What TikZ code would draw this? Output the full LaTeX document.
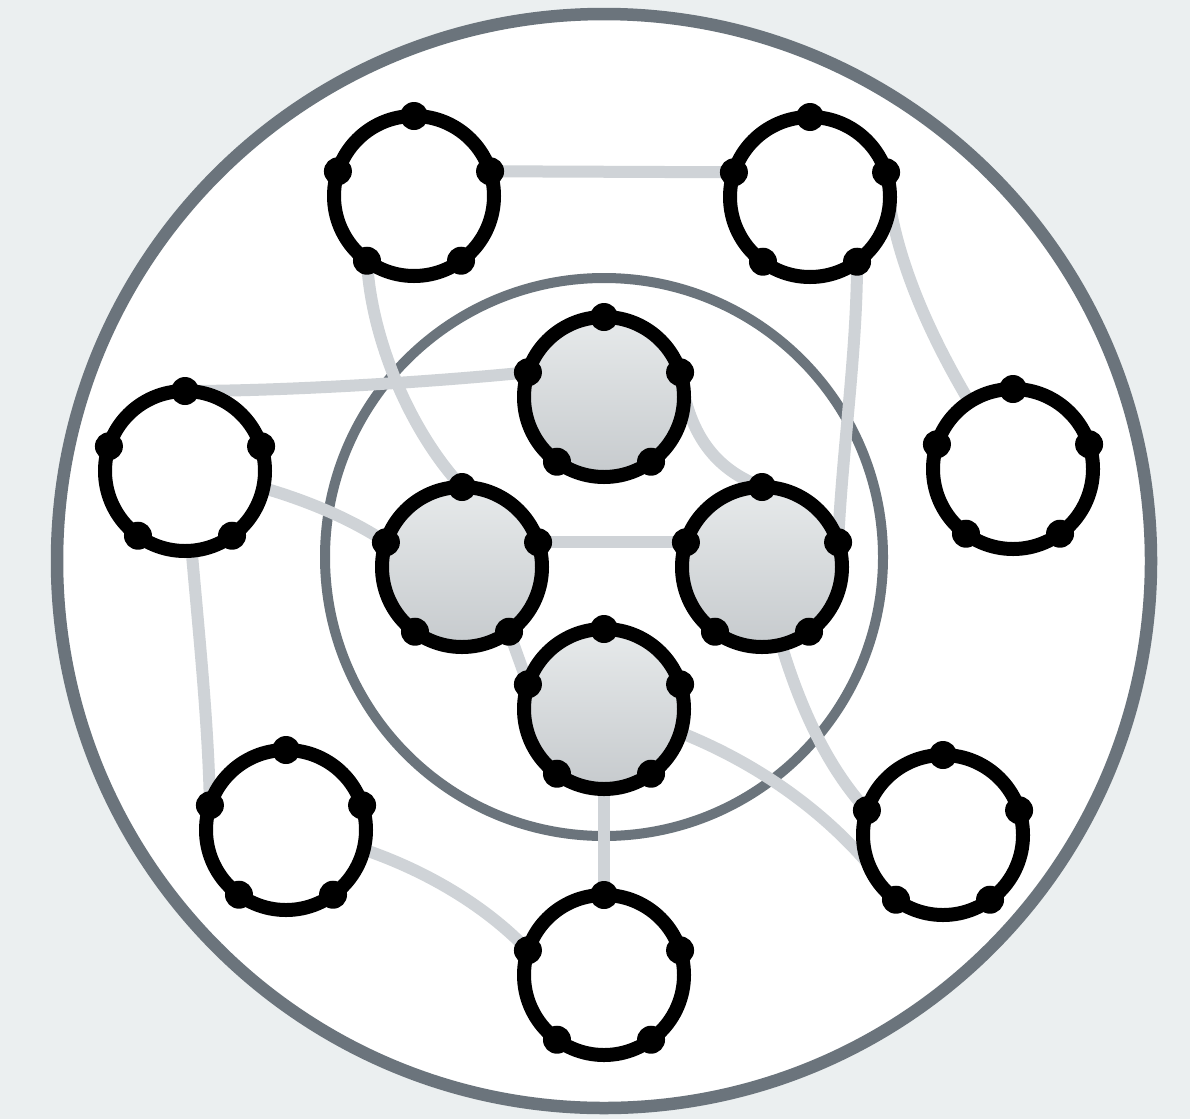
\documentclass[tikz,border=0pt]{standalone}
\usetikzlibrary{calc}
\definecolor{bgc}{HTML}{EBEFF0}
\definecolor{ringc}{HTML}{6B747C}
\definecolor{edgec}{HTML}{CFD3D7}
\definecolor{gtop}{HTML}{E7EAEB}
\definecolor{gbot}{HTML}{C6CACD}
\pgfdeclarelayer{bg}
\pgfdeclarelayer{edges}
\pgfsetlayers{bg,edges,main}
\begin{document}
\begin{tikzpicture}[x=1pt,y=-1pt,
  outernode/.style={circle, draw=black, line width=14pt, fill=white, minimum size=160pt, inner sep=0pt, outer sep=0pt},
  innernode/.style={circle, draw=black, line width=14pt, top color=gtop, bottom color=gbot, minimum size=160pt, inner sep=0pt, outer sep=0pt},
  port/.style={circle, fill=black, minimum size=28pt, inner sep=0pt, outer sep=0pt},
  link/.style={draw=edgec, line width=12pt},
  ring/.style={draw=ringc}]
\useasboundingbox (0,0) rectangle (1190,1119);
\begin{pgfonlayer}{bg}
  \fill[bgc] (0,0) rectangle (1190,1119);
  \draw[ring, line width=12.5pt, fill=white] (604,561) circle (547pt);
  \draw[ring, line width=10pt] (604,557) circle (279pt);
\end{pgfonlayer}
% outer nodes
\node[outernode] (n1) at (414,196) {};
\node[outernode] (n2) at (810,197) {};
\node[outernode] (n3) at (185,471) {};
\node[outernode] (n4) at (1013,469) {};
\node[outernode] (n5) at (286,830) {};
\node[outernode] (n6) at (943,835) {};
\node[outernode] (n7) at (604,975) {};
% inner nodes
\node[innernode] (i1) at (604,397) {};
\node[innernode] (i2) at (462,567) {};
\node[innernode] (i3) at (762,567) {};
\node[innernode] (i4) at (604,709) {};
% ports
\foreach \n in {n1,n2,n3,n4,n5,n6,n7,i1,i2,i3,i4}{
  \foreach \a in {90,162,18,234,306}{
    \node[port] (\n-\a) at (\n.\a) {};
  }
}
\begin{pgfonlayer}{edges}
  \draw[link] (n1-18.center) -- (n2-162.center);
  \draw[link] (n1-234.center) .. controls +(4,78) and +(-52,-56) .. (i2-90.center);
  \draw[link] (n2-306.center) .. controls +(0,90) and +(4,-90) .. (i3-18.center);
  \draw[link] (n2-18.center) .. controls +(5,90) and +(-70,-100) .. (n4.center);
  \draw[link] (n3-90.center) .. controls +(100,0) and +(-100,10) .. (i1-162.center);
  \draw[link] (n3.center) .. controls +(65,9) and +(-55,-37) .. (i2-162.center);
  \draw[link] (n3.center) .. controls +(10,130) and +(-2,-100) .. (n5-162.center);
  \draw[link] (n5.center) .. controls +(94,15) and +(-57,-60) .. (n7-162.center);
  \draw[link] (i4.center) -- (n7-90.center);
  \draw[link] (i4.center) .. controls +(96,21) and +(-76,-110) .. (n6-234.center);
  \draw[link] (i3.center) .. controls +(23,113) and +(-46,-50) .. (n6-162.center);
  \draw[link] (i1-18.center) .. controls +(9,68) and +(-42,-16) .. (i3-90.center);
  \draw[link] (i2-18.center) -- (i3-162.center);
  \draw[link] (i2-306.center) -- (i4-162.center);
\end{pgfonlayer}
\end{tikzpicture}
\end{document}
